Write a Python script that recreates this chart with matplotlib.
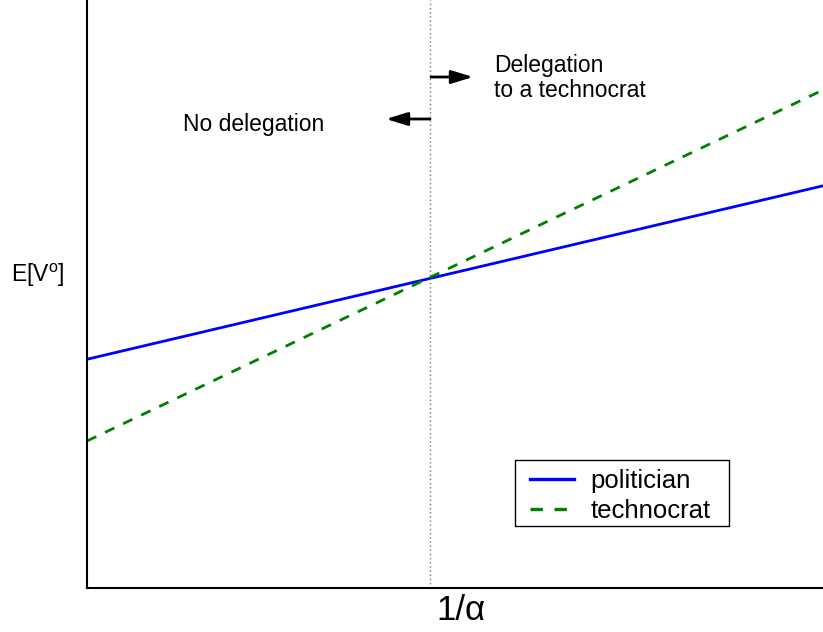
import matplotlib
matplotlib.use("Agg")
import matplotlib.pyplot as plt
from matplotlib.patches import Rectangle
import numpy as np

plt.rcParams['font.family'] = ['Liberation Sans', 'DejaVu Sans']
plt.rcParams['mathtext.fontset'] = 'custom'
plt.rcParams['mathtext.rm'] = 'Liberation Sans'
plt.rcParams['mathtext.it'] = 'Liberation Sans:italic'

# data
x_vals = [0.0, 1.0]
politician = [0.389, 0.684]
technocrat = [0.25, 0.847]
threshold = 0.466
series_labels = ["politician", "technocrat"]

W, H = 823, 632
fig = plt.figure(figsize=(W / 100, H / 100), dpi=100)
ax = fig.add_axes([87/W, 44/H, 1 - 87/W, 1 - 44/H])
ax.set_xlim(0, 1)
ax.set_ylim(0, 1)

def px(xp, yp):
    """figure pixel (from top-left) -> axes fraction"""
    return (xp - 87) / 736, (588 - yp) / 588

ax.plot(x_vals, politician, color=(0, 0, 1), lw=2.0, label=series_labels[0])
ax.plot(x_vals, technocrat, color=(0, 0.5, 0), lw=2.0, ls=(0, (3.7, 3.5)), label=series_labels[1])
ax.axvline(threshold, color='0.45', lw=1.0, ls=(0, (1, 2)))

for s in ['top', 'right']:
    ax.spines[s].set_visible(False)
for s in ['left', 'bottom']:
    ax.spines[s].set_linewidth(1.5)
ax.set_xticks([])
ax.set_yticks([])

# arrows
astyle = '-|>,head_length=0.65,head_width=0.2'
ax.annotate('', xy=px(473, 77), xytext=px(431, 77),
            arrowprops=dict(arrowstyle=astyle, color='black', lw=2.0, mutation_scale=20, shrinkA=0, shrinkB=0))
ax.annotate('', xy=px(386, 119), xytext=px(430, 119),
            arrowprops=dict(arrowstyle=astyle, color='black', lw=2.0, mutation_scale=20, shrinkA=0, shrinkB=0))

ax.text(*px(494, 97), "Delegation\nto a technocrat", ha='left', va='baseline',
        fontsize=16.5, linespacing=1.1)
ax.text(*px(254, 124), "No delegation", ha='center', va='center', fontsize=16.5)

fig.text(38 / W, 1 - 275 / H, "E[V$^{\\mathrm{o}}$]", ha='center', va='center', fontsize=16.5)
fig.text(461 / W, 1 - 611 / H, "1/α", ha='center', va='center', fontsize=25)

# legend frame
x0, y0 = px(515, 526)
x1, y1 = px(729, 460)
ax.add_patch(Rectangle((x0, y0), x1 - x0, y1 - y0, transform=ax.transAxes,
                       facecolor='white', edgecolor='black', lw=1.0, zorder=4))
leg = ax.legend(loc='upper left', bbox_to_anchor=px(530, 469),
                fontsize=18.5, frameon=False, handlelength=1.7,
                borderpad=0, labelspacing=0.22, handletextpad=0.65, borderaxespad=0)
leg.set_zorder(5)
for h in leg.get_lines():
    h.set_linewidth(2.4)

fig.savefig("out.png", dpi=100)
